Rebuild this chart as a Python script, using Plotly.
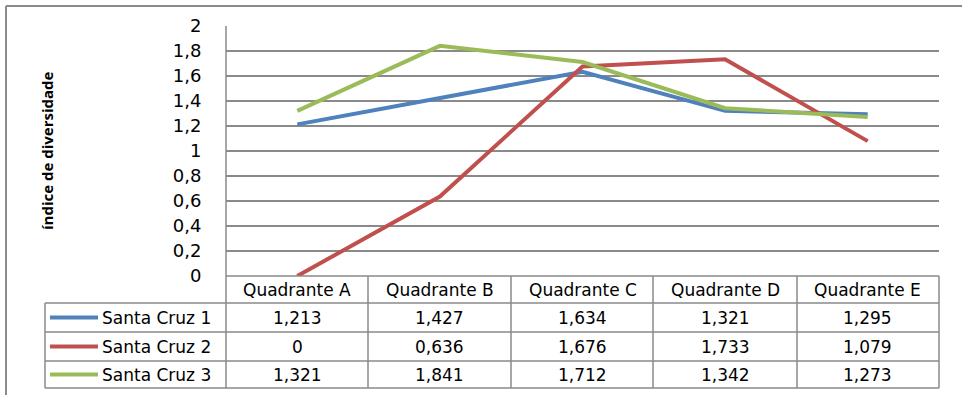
import plotly.graph_objects as go

categories = ["Quadrante A", "Quadrante B", "Quadrante C", "Quadrante D", "Quadrante E"]
series_names = ["Santa Cruz 1", "Santa Cruz 2", "Santa Cruz 3"]
santa_cruz_1 = [1.213, 1.427, 1.634, 1.321, 1.295]
santa_cruz_2 = [0, 0.636, 1.676, 1.733, 1.079]
santa_cruz_3 = [1.321, 1.841, 1.712, 1.342, 1.273]
series_values = [santa_cruz_1, santa_cruz_2, santa_cruz_3]
series_colors = ["#4F81BD", "#C0504D", "#9BBB59"]
y_tickvals = [0, 0.2, 0.4, 0.6, 0.8, 1, 1.2, 1.4, 1.6, 1.8, 2]
y_ticktext = ["0", "0,2", "0,4", "0,6", "0,8", "1", "1,2", "1,4", "1,6", "1,8", "2"]
y_title = "índice de diversidade"

W, H = 962, 395
FONT = "DejaVu Sans"
TITLE_FONT = "Open Sans"
GRID = "#8a8a8a"

def px(x):
    return x / W

def py(y):
    return 1 - y / H

plot_l, plot_r, plot_t, plot_b = 226, 939, 26, 276
row_edges = [276, 303, 332, 361, 388]
col_edges = [226, 368, 511, 653, 797, 939]
legend_left = 45

fig = go.Figure()
for name, vals, col in zip(series_names, series_values, series_colors):
    fig.add_trace(go.Scatter(x=categories, y=vals, mode="lines", name=name,
                             line=dict(color=col, width=4), showlegend=False))

shapes = []
def hline(y, x0, x1, w=1.5):
    shapes.append(dict(type="line", xref="paper", yref="paper", x0=px(x0), x1=px(x1),
                       y0=py(y), y1=py(y), line=dict(color=GRID, width=w)))
def vline(x, y0, y1, w=1.5):
    shapes.append(dict(type="line", xref="paper", yref="paper", x0=px(x), x1=px(x),
                       y0=py(y0), y1=py(y1), line=dict(color=GRID, width=w)))

# outer chart border (top and left)
hline(6, 6, W, 2)
vline(6, 6, H, 2)
# table
hline(row_edges[0], col_edges[0], col_edges[-1])
for y in row_edges[1:]:
    hline(y, legend_left, col_edges[-1])
vline(legend_left, row_edges[1], row_edges[-1])
vline(col_edges[0], plot_t, row_edges[-1])
for x in col_edges[1:]:
    vline(x, row_edges[0], row_edges[-1])

annotations = []
TFS = 17
# header labels
hy = (row_edges[0] + row_edges[1]) / 2
for c in categories:
    annotations.append(dict(x=c, xref="x", y=py(hy), yref="paper", text=c, showarrow=False,
                            font=dict(family=FONT, size=TFS, color="#000"), xanchor="center", yanchor="middle"))
# rows
for i, (name, vals, col) in enumerate(zip(series_names, series_values, series_colors)):
    yc = (row_edges[i + 1] + row_edges[i + 2]) / 2
    shapes.append(dict(type="line", xref="paper", yref="paper", x0=px(50), x1=px(98),
                       y0=py(yc), y1=py(yc), line=dict(color=col, width=4)))
    annotations.append(dict(x=px(100), xref="paper", y=py(yc), yref="paper", text=name, showarrow=False,
                            font=dict(family=FONT, size=TFS, color="#000"), xanchor="left", yanchor="middle"))
    for c, v in zip(categories, vals):
        annotations.append(dict(x=c, xref="x", y=py(yc), yref="paper",
                                text=("%g" % v).replace(".", ","), showarrow=False,
                                font=dict(family=FONT, size=TFS, color="#000"),
                                xanchor="center", yanchor="middle"))
# y title
annotations.append(dict(x=px(47), xref="paper", y=py(151), yref="paper", text="<b>" + y_title + "</b>",
                        textangle=-90, showarrow=False, font=dict(family=TITLE_FONT, size=15, color="#000"),
                        xanchor="center", yanchor="middle"))

fig.update_layout(
    template="none",
    width=W, height=H, margin=dict(l=0, r=0, t=0, b=0, pad=0),
    paper_bgcolor="white", plot_bgcolor="white",
    shapes=shapes, annotations=annotations,
    xaxis=dict(domain=[px(plot_l), px(plot_r)], range=[-0.5, 4.5], showticklabels=False,
               showgrid=False, zeroline=False, showline=False, ticks="", automargin=False),
    yaxis=dict(domain=[py(plot_b), py(plot_t)], range=[0, 2], tickvals=y_tickvals, ticktext=y_ticktext,
               showgrid=True, gridcolor=GRID, gridwidth=1.5, zeroline=False, showline=False,
               ticks="outside", ticklen=20, tickcolor="rgba(0,0,0,0)", automargin=False,
               tickfont=dict(family=FONT, size=18, color="#000")),
)
fig.write_html("out.html")
